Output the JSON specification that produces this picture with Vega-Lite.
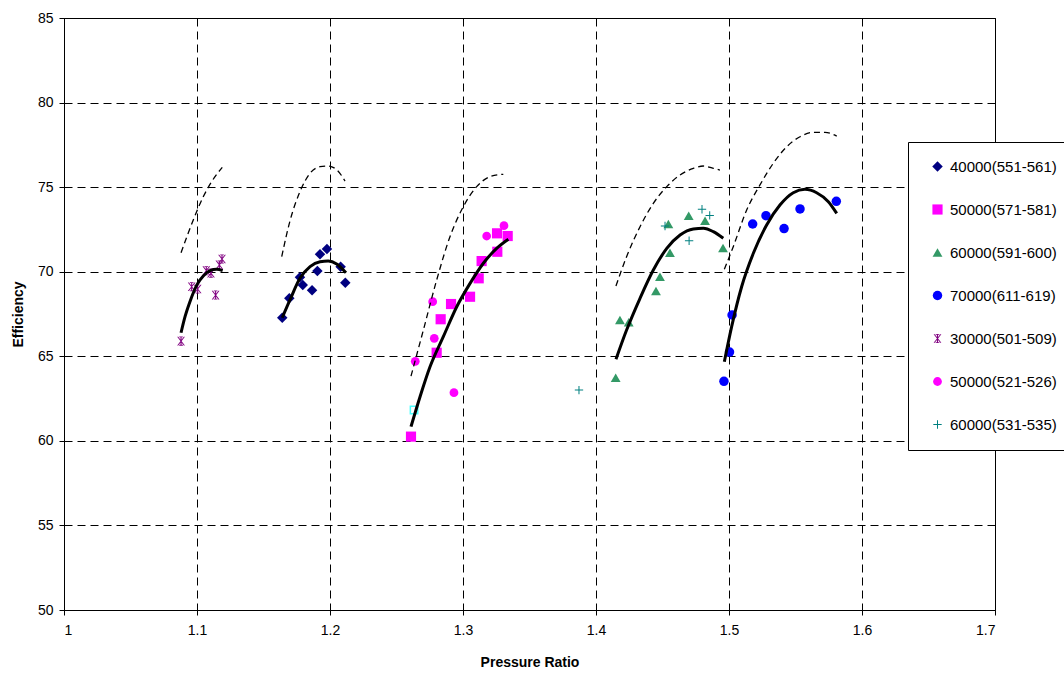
{
"$schema":"https://vega.github.io/schema/vega-lite/v6.json",
"width":931,"height":592,
"autosize":"none",
"padding":{"left":64,"top":18,"right":69,"bottom":65},
"background":"white",
"config":{"view":{"stroke":"black","strokeWidth":1},
"font":"Liberation Sans",
"axis":{"grid":true,"gridColor":"black","gridDash":[8,5],"gridWidth":1,"gridOpacity":1,"domainColor":"black","tickColor":"black","tickSize":5,"labelColor":"black","labelFont":"Liberation Sans","labelFontSize":14,"titleFont":"Liberation Sans","titleFontSize":14,"titleFontWeight":"bold","titleColor":"black"}},
"datasets":{
"curves":[
{"c":"a","k":"fit","x":1.088,"y":66.39},{"c":"a","k":"fit","x":1.091,"y":67.34},{"c":"a","k":"fit","x":1.0947,"y":68.23},{"c":"a","k":"fit","x":1.0998,"y":69.21},{"c":"a","k":"fit","x":1.1047,"y":69.75},{"c":"a","k":"fit","x":1.1098,"y":70.06},{"c":"a","k":"fit","x":1.1148,"y":70.14},{"c":"a","k":"fit","x":1.1193,"y":70.06},
{"c":"a","k":"dash","x":1.088,"y":71.12},{"c":"a","k":"dash","x":1.0972,"y":73.06},{"c":"a","k":"dash","x":1.1047,"y":74.43},{"c":"a","k":"dash","x":1.111,"y":75.32},{"c":"a","k":"dash","x":1.119,"y":76.17},
{"c":"b","k":"fit","x":1.1641,"y":67.28},{"c":"b","k":"fit","x":1.1699,"y":68.33},{"c":"b","k":"fit","x":1.1774,"y":69.61},{"c":"b","k":"fit","x":1.185,"y":70.3},{"c":"b","k":"fit","x":1.1925,"y":70.59},{"c":"b","k":"fit","x":1.1987,"y":70.63},{"c":"b","k":"fit","x":1.205,"y":70.46},{"c":"b","k":"fit","x":1.212,"y":69.94},
{"c":"b","k":"dash","x":1.1637,"y":70.89},{"c":"b","k":"dash","x":1.1699,"y":73.0},{"c":"b","k":"dash","x":1.1774,"y":74.73},{"c":"b","k":"dash","x":1.185,"y":75.82},{"c":"b","k":"dash","x":1.1925,"y":76.21},{"c":"b","k":"dash","x":1.1985,"y":76.25},{"c":"b","k":"dash","x":1.2053,"y":76.01},{"c":"b","k":"dash","x":1.2113,"y":75.36},
{"c":"c","k":"fit","x":1.2609,"y":60.84},{"c":"c","k":"fit","x":1.2677,"y":62.61},{"c":"c","k":"fit","x":1.2752,"y":64.38},{"c":"c","k":"fit","x":1.2852,"y":66.16},{"c":"c","k":"fit","x":1.2953,"y":67.93},{"c":"c","k":"fit","x":1.3053,"y":69.31},{"c":"c","k":"fit","x":1.3153,"y":70.5},{"c":"c","k":"fit","x":1.3253,"y":71.38},{"c":"c","k":"fit","x":1.3341,"y":71.92},
{"c":"c","k":"dash","x":1.2609,"y":63.83},{"c":"c","k":"dash","x":1.2702,"y":66.55},{"c":"c","k":"dash","x":1.2802,"y":69.51},{"c":"c","k":"dash","x":1.2902,"y":72.07},{"c":"c","k":"dash","x":1.3002,"y":73.84},{"c":"c","k":"dash","x":1.3103,"y":75.03},{"c":"c","k":"dash","x":1.3203,"y":75.62},{"c":"c","k":"dash","x":1.3303,"y":75.76},
{"c":"d","k":"fit","x":1.415,"y":64.82},{"c":"d","k":"fit","x":1.423,"y":66.55},{"c":"d","k":"fit","x":1.4331,"y":68.43},{"c":"d","k":"fit","x":1.4431,"y":70.1},{"c":"d","k":"fit","x":1.4532,"y":71.38},{"c":"d","k":"fit","x":1.4632,"y":72.17},{"c":"d","k":"fit","x":1.4732,"y":72.53},{"c":"d","k":"fit","x":1.4807,"y":72.57},{"c":"d","k":"fit","x":1.4882,"y":72.37},{"c":"d","k":"fit","x":1.4957,"y":71.98},
{"c":"d","k":"dash","x":1.415,"y":69.16},{"c":"d","k":"dash","x":1.423,"y":70.89},{"c":"d","k":"dash","x":1.4331,"y":72.66},{"c":"d","k":"dash","x":1.4431,"y":74.04},{"c":"d","k":"dash","x":1.4532,"y":75.03},{"c":"d","k":"dash","x":1.4632,"y":75.72},{"c":"d","k":"dash","x":1.4732,"y":76.11},{"c":"d","k":"dash","x":1.4807,"y":76.25},{"c":"d","k":"dash","x":1.4882,"y":76.11},{"c":"d","k":"dash","x":1.4932,"y":76.01},
{"c":"e","k":"fit","x":1.4965,"y":64.68},{"c":"e","k":"fit","x":1.502,"y":66.75},{"c":"e","k":"fit","x":1.5095,"y":69.11},{"c":"e","k":"fit","x":1.5183,"y":71.09},{"c":"e","k":"fit","x":1.5283,"y":72.76},{"c":"e","k":"fit","x":1.5383,"y":73.94},{"c":"e","k":"fit","x":1.5483,"y":74.67},{"c":"e","k":"fit","x":1.5571,"y":74.87},{"c":"e","k":"fit","x":1.5659,"y":74.67},{"c":"e","k":"fit","x":1.5747,"y":74.14},{"c":"e","k":"fit","x":1.581,"y":73.45},
{"c":"e","k":"dash","x":1.4965,"y":70.14},{"c":"e","k":"dash","x":1.5032,"y":71.48},{"c":"e","k":"dash","x":1.5133,"y":73.65},{"c":"e","k":"dash","x":1.5233,"y":75.13},{"c":"e","k":"dash","x":1.5333,"y":76.41},{"c":"e","k":"dash","x":1.5434,"y":77.39},{"c":"e","k":"dash","x":1.5534,"y":77.98},{"c":"e","k":"dash","x":1.5634,"y":78.24},{"c":"e","k":"dash","x":1.5722,"y":78.24},{"c":"e","k":"dash","x":1.581,"y":78.02}
],
"pts":[
{"s":"40000(551-561)","x":1.1641,"y":67.28},{"s":"40000(551-561)","x":1.1694,"y":68.43},{"s":"40000(551-561)","x":1.1774,"y":69.67},{"s":"40000(551-561)","x":1.1795,"y":69.21},{"s":"40000(551-561)","x":1.1865,"y":68.9},{"s":"40000(551-561)","x":1.1905,"y":70.04},{"s":"40000(551-561)","x":1.1925,"y":71.03},{"s":"40000(551-561)","x":1.1977,"y":71.34},{"s":"40000(551-561)","x":1.208,"y":70.3},{"s":"40000(551-561)","x":1.2115,"y":69.35},
{"s":"50000(571-581)","x":1.2609,"y":60.25},{"s":"50000(571-581)","x":1.2802,"y":65.21},{"s":"50000(571-581)","x":1.2832,"y":67.19},{"s":"50000(571-581)","x":1.291,"y":68.09},{"s":"50000(571-581)","x":1.3053,"y":68.52},{"s":"50000(571-581)","x":1.3118,"y":69.61},{"s":"50000(571-581)","x":1.314,"y":70.63},{"s":"50000(571-581)","x":1.3258,"y":71.18},{"s":"50000(571-581)","x":1.3256,"y":72.27},{"s":"50000(571-581)","x":1.3336,"y":72.11},
{"s":"60000(591-600)","x":1.4148,"y":63.73},{"s":"60000(591-600)","x":1.418,"y":67.14},{"s":"60000(591-600)","x":1.4246,"y":67.01},{"s":"60000(591-600)","x":1.4451,"y":68.86},{"s":"60000(591-600)","x":1.4481,"y":69.7},{"s":"60000(591-600)","x":1.4556,"y":71.12},{"s":"60000(591-600)","x":1.4544,"y":72.82},{"s":"60000(591-600)","x":1.4697,"y":73.31},{"s":"60000(591-600)","x":1.482,"y":73.02},{"s":"60000(591-600)","x":1.4955,"y":71.4},
{"s":"70000(611-619)","x":1.4962,"y":63.52},{"s":"70000(611-619)","x":1.5004,"y":65.25},{"s":"70000(611-619)","x":1.5023,"y":67.44},{"s":"70000(611-619)","x":1.5178,"y":72.82},{"s":"70000(611-619)","x":1.5278,"y":73.31},{"s":"70000(611-619)","x":1.5414,"y":72.55},{"s":"70000(611-619)","x":1.5534,"y":73.71},{"s":"70000(611-619)","x":1.5807,"y":74.16},
{"s":"30000(501-509)","x":1.088,"y":65.9},{"s":"30000(501-509)","x":1.096,"y":69.11},{"s":"30000(501-509)","x":1.1005,"y":68.98},{"s":"30000(501-509)","x":1.107,"y":70.06},{"s":"30000(501-509)","x":1.1105,"y":69.92},{"s":"30000(501-509)","x":1.114,"y":68.62},{"s":"30000(501-509)","x":1.1168,"y":70.4},{"s":"30000(501-509)","x":1.1188,"y":70.75},
{"s":"50000(521-526)","x":1.2641,"y":64.7},{"s":"50000(521-526)","x":1.2784,"y":66.06},{"s":"50000(521-526)","x":1.2772,"y":68.23},{"s":"50000(521-526)","x":1.2932,"y":62.85},{"s":"50000(521-526)","x":1.3178,"y":72.11},{"s":"50000(521-526)","x":1.3308,"y":72.72},
{"s":"60000(531-535)","x":1.3872,"y":63.0},{"s":"60000(531-535)","x":1.4519,"y":72.7},{"s":"60000(531-535)","x":1.47,"y":71.83},{"s":"60000(531-535)","x":1.4797,"y":73.69},{"s":"60000(531-535)","x":1.4855,"y":73.33}
],
"extra":[{"x":1.2632,"y":61.82}]
},
"encoding":{
"x":{"field":"x","type":"quantitative","scale":{"domain":[1,1.7],"nice":false,"zero":false},"axis":{"values":[1,1.1,1.2,1.3,1.4,1.5,1.6,1.7],"format":"~g","title":"Pressure Ratio","labelPadding":8,"titlePadding":18}},
"y":{"field":"y","type":"quantitative","scale":{"domain":[50,85],"nice":false,"zero":false},"axis":{"values":[50,55,60,65,70,75,80,85],"title":"Efficiency","labelPadding":6,"titlePadding":12}}
},
"layer":[
{"data":{"name":"pts"},"mark":{"type":"point","filled":true,"opacity":1,"strokeWidth":0},
"encoding":{
"size":{"field":"s","type":"nominal","legend":null,"scale":{"domain":["40000(551-561)","50000(571-581)","60000(591-600)","70000(611-619)","30000(501-509)","50000(521-526)","60000(531-535)"],"range":[110,70,95,75,85,75,85]}},
"color":{"field":"s","type":"nominal","scale":{"domain":["40000(551-561)","50000(571-581)","60000(591-600)","70000(611-619)","30000(501-509)","50000(521-526)","60000(531-535)"],"range":["#000080","#FF00FF","#339966","#0000FF","#800080","#FF00FF","#008080"]},"legend":{"title":null,"orient":"none","legendX":844,"legendY":124,"fillColor":"white","strokeColor":"black","padding":17,"symbolOffset":5,"labelOffset":5,"rowPadding":27,"labelFontSize":15,"labelFont":"Liberation Sans","labelColor":"black","symbolSize":65}},
"shape":{"field":"s","type":"nominal","scale":{"domain":["40000(551-561)","50000(571-581)","60000(591-600)","70000(611-619)","30000(501-509)","50000(521-526)","60000(531-535)"],"range":["diamond","square","triangle-up","circle","M-0.85,-0.95L-0.6,-0.95L0.85,0.95L0.6,0.95ZM0.6,-0.95L0.85,-0.95L-0.6,0.95L-0.85,0.95ZM-0.12,-1L0.12,-1L0.12,1L-0.12,1ZM-0.4,-1L0.4,-1L0.4,-0.82L-0.4,-0.82ZM-0.4,0.82L0.4,0.82L0.4,1L-0.4,1Z","circle","M-0.12,-1L0.12,-1L0.12,-0.12L1,-0.12L1,0.12L0.12,0.12L0.12,1L-0.12,1L-0.12,0.12L-1,0.12L-1,-0.12L-0.12,-0.12Z"]}}
}},
{"data":{"name":"extra"},"mark":{"type":"point","shape":"square","filled":false,"color":"#00FFFF","size":55,"strokeWidth":1.5}},
{"data":{"name":"curves"},"transform":[{"filter":"datum.k==='dash'"}],"mark":{"type":"line","color":"black","strokeWidth":1.3,"strokeDash":[6,4],"interpolate":"monotone"},"encoding":{"detail":{"field":"c"}}},
{"data":{"name":"curves"},"transform":[{"filter":"datum.k==='fit'"}],"mark":{"type":"line","color":"black","strokeWidth":3,"interpolate":"monotone"},"encoding":{"detail":{"field":"c"}}}
]
}
